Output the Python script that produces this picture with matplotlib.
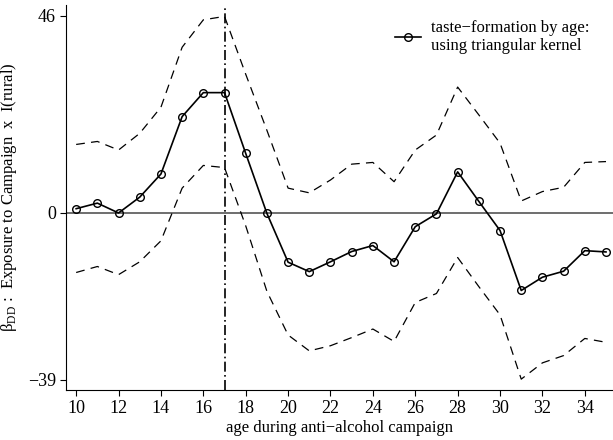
import numpy as np
import matplotlib
matplotlib.use("Agg")
import matplotlib.pyplot as plt

plt.rcParams['font.family'] = ['Liberation Serif', 'DejaVu Serif']
plt.rcParams['mathtext.fontset'] = 'custom'
plt.rcParams['mathtext.rm'] = 'Liberation Serif'

age = np.arange(10, 36)
estimate = [1.0, 2.3, 0.0, 3.7, 9.1, 22.5, 28.1, 28.1, 13.9, -0.1,
            -11.5, -13.7, -11.4, -9.0, -7.6, -11.4, -3.2, -0.2, 9.6, 2.7,
            -4.1, -18.1, -15.0, -13.6, -8.8, -9.1]
upper = [16.0, 16.7, 14.7, 18.6, 24.7, 38.7, 45.1, 45.9, 32.4, 19.3,
         5.8, 4.7, 7.7, 11.4, 11.8, 7.3, 14.7, 18.2, 29.4, 22.9,
         16.3, 2.8, 5.0, 6.0, 11.8, 12.0]
lower = [-13.9, -12.5, -14.4, -11.4, -6.5, 5.8, 11.1, 10.6, -3.0, -18.3,
         -28.5, -32.2, -31.0, -29.1, -27.1, -30.0, -20.9, -18.8, -10.4, -17.2,
         -23.8, -38.8, -35.0, -33.3, -29.3, -30.2]
y_ticks = [-39, 0, 46]
x_ticks = list(range(10, 35, 2))

fig = plt.figure(figsize=(6.13, 4.4), dpi=100)
ax = fig.add_axes([0.108, 0.114, 0.892, 0.875])

ax.axhline(0, color='#555555', lw=1.2, zorder=1)
ax.axvline(17, color='black', lw=1.2, ls=(0, (6, 2, 1, 2)), zorder=1)
ax.plot(age, upper, color='black', lw=0.9, ls=(0, (7, 5)))
ax.plot(age, lower, color='black', lw=0.9, ls=(0, (7, 5)))
ax.plot(age, estimate, color='black', lw=1.2, marker='o', ms=5.5,
        mfc='none', mec='black', mew=1.0,
        label="taste\u2212formation by age:\nusing triangular kernel")

ax.set_xlim(9.53, 35.33)
ax.set_ylim(-41.3, 48.6)
ax.set_xticks(x_ticks)
ax.set_yticks(y_ticks)
ax.set_yticklabels(["\u221239", "0", "46"])
ax.tick_params(labelsize=13, direction='out', length=4, width=0.8)
for s in ['top', 'right']:
    ax.spines[s].set_visible(False)

ax.set_xlabel("age during anti\u2212alcohol campaign", fontsize=12, labelpad=2)
ax.set_ylabel("\u03b2$_{\\mathrm{DD}}$ :  Exposure to Campaign  x  I(rural)",
              fontsize=12, labelpad=6)

ax.legend(loc='upper right', frameon=False, fontsize=12, handlelength=1.6,
          bbox_to_anchor=(0.985, 1.0), handletextpad=0.6)

fig.savefig("out.png", dpi=100)
